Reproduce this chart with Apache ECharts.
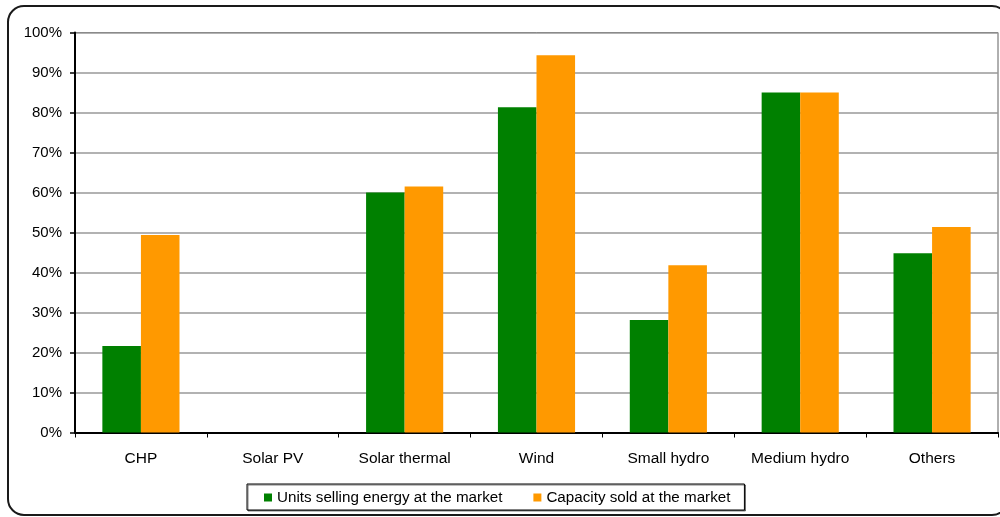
<!DOCTYPE html>
<html>
<head>
<meta charset="utf-8">
<script src="https://cdn.jsdelivr.net/npm/echarts@6/dist/echarts.min.js"></script>
<style>
  html, body { margin: 0; padding: 0; background: #fff; }
  #chart { width: 1000px; height: 517px; }
</style>
</head>
<body>
<div id="chart"></div>
<script>
// Share of units by technology
const categories = ['CHP', 'Solar PV', 'Solar thermal', 'Wind', 'Small hydro', 'Medium hydro', 'Others'];
const unitsSellingEnergy = [21.6, 0, 60.0, 81.3, 28.1, 85.0, 44.8];
const capacitySold = [49.4, 0, 61.5, 94.3, 41.8, 85.0, 51.4];
const seriesNames = ['Units selling energy at the market', 'Capacity sold at the market'];

const FONT = '"Liberation Sans", Arial, sans-serif';

const chart = echarts.init(document.getElementById('chart'), null, { renderer: 'canvas' });

chart.setOption({
  animation: false,
  backgroundColor: '#fff',
  graphic: [{
    type: 'rect',
    shape: { x: 8, y: 6, width: 1000, height: 509, r: 16 },
    style: { fill: 'none', stroke: '#1a1a1a', lineWidth: 2 },
    z: 100
  }],
  grid: {
    left: 75, right: 2, top: 32.5, bottom: 84.5,
    show: true, borderColor: '#606060', borderWidth: 1, backgroundColor: 'transparent'
  },
  legend: {
    left: 247, top: 484,
    padding: [6, 14, 5, 17],
    itemGap: 31,
    itemWidth: 8, itemHeight: 8,
    icon: 'rect',
    borderColor: '#000', borderWidth: 1,
    shadowColor: 'rgba(0,0,0,0.5)', shadowOffsetX: 1, shadowOffsetY: 1,
    backgroundColor: '#fff',
    textStyle: { fontFamily: FONT, fontSize: 15.2, color: '#000', padding: [0, 0, 0, 0] },
    data: seriesNames
  },
  xAxis: {
    type: 'category',
    data: categories,
    axisLine: { lineStyle: { color: '#000', width: 2 } },
    axisTick: { show: true, length: 5, lineStyle: { color: '#000', width: 1 } },
    axisLabel: { fontFamily: FONT, fontSize: 15.5, color: '#000', margin: 18 },
    splitLine: { show: false }
  },
  yAxis: {
    type: 'value',
    min: 0, max: 100, interval: 10,
    axisLine: { show: true, lineStyle: { color: '#000', width: 2 } },
    axisTick: { show: true, length: 5, lineStyle: { color: '#000', width: 1.5 } },
    axisLabel: { fontFamily: FONT, fontSize: 15, color: '#000', margin: 13, formatter: '{value}%' },
    splitLine: { lineStyle: { color: '#999', width: 1.5 } }
  },
  series: [
    {
      name: seriesNames[0],
      type: 'bar',
      data: unitsSellingEnergy,
      barGap: '0%',
      barCategoryGap: '41.5%',
      itemStyle: { color: '#008000' }
    },
    {
      name: seriesNames[1],
      type: 'bar',
      data: capacitySold,
      barGap: '0%',
      barCategoryGap: '41.5%',
      itemStyle: { color: '#FF9900' }
    }
  ]
});
</script>
</body>
</html>
